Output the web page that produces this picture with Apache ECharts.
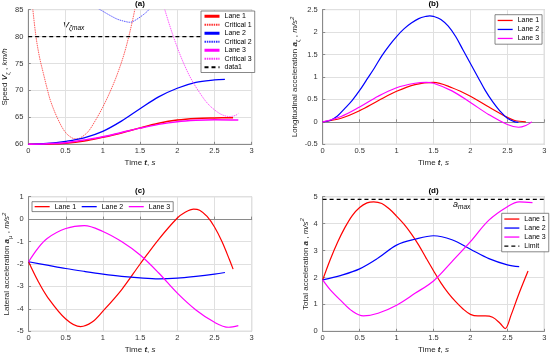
<!DOCTYPE html>
<html><head><meta charset="utf-8">
<script src="https://cdn.jsdelivr.net/npm/echarts@6/dist/echarts.min.js"></script>
<style>html,body{margin:0;padding:0;background:#fff}#c{width:550px;height:356px}</style>
</head><body><div id="c"></div>
<script>
// ---------- DATA ----------
const xTicks = [0, 0.5, 1, 1.5, 2, 2.5, 3];
// (a) speed, km/h
const tA1 = [0,0.25,0.5,0.75,1.0,1.25,1.5,1.75,2.0,2.25,2.5,2.75];
const vA1 = [60,60.05,60.2,60.6,61.3,62.1,63.05,63.9,64.5,64.8,64.9,64.95];
const tA2 = [0,0.25,0.5,0.75,1.0,1.25,1.5,1.75,2.0,2.25,2.5,2.64];
const vA2 = [60,60.15,60.55,61.2,62.4,64.3,66.6,68.8,70.4,71.5,71.95,72.05];
const tA3 = [0,0.25,0.5,0.75,1.0,1.25,1.5,1.75,2.0,2.25,2.5,2.82];
const vA3 = [60,60.1,60.3,60.8,61.4,62.2,63.0,63.7,64.2,64.45,64.55,64.5];
const tCr1 = [0.05,0.1,0.15,0.2,0.25,0.3,0.4,0.5,0.6,0.65,0.7,0.8,0.9,1.0,1.1,1.2,1.3,1.4,1.45];
const vCr1 = [86.5,80.3,76.2,73.3,70.5,68.0,64.6,62.2,61.1,61.0,61.2,62.3,64.4,66.9,69.8,73.2,77.4,83.0,86.5];
const tCr2 = [0.9,1.0,1.1,1.2,1.3,1.36,1.4,1.5,1.6,1.65];
const vCr2 = [85.5,84.7,83.9,83.2,82.8,82.65,82.75,83.6,84.7,85.5];
const tCr3 = [1.8,1.9,2.0,2.1,2.2,2.3,2.4,2.5,2.6,2.7,2.78,2.82];
const vCr3 = [86.5,82.0,78.0,74.6,71.8,69.6,67.7,66.4,65.5,65.15,65.35,65.7];
const tVmax = [0, 3];
const vVmax = [80, 80];
// (b) longitudinal acceleration, m/s^2
const tB1 = [0,0.25,0.5,0.75,1.0,1.25,1.5,1.75,2.0,2.25,2.5,2.6,2.75];
const vB1 = [0,0.08,0.25,0.47,0.68,0.83,0.88,0.76,0.57,0.33,0.1,0.03,0.0];
const tB2 = [0,0.1,0.2,0.3,0.4,0.5,0.6,0.7,0.8,0.9,1.0,1.1,1.2,1.3,1.4,1.45,1.5,1.6,1.7,1.8,1.9,2.0,2.1,2.2,2.3,2.4,2.5,2.6,2.65];
const vB2 = [0,0.03,0.13,0.3,0.48,0.7,0.95,1.2,1.47,1.7,1.9,2.07,2.2,2.3,2.35,2.36,2.35,2.28,2.13,1.9,1.6,1.3,1.0,0.7,0.45,0.24,0.08,0.0,-0.01];
const tB3 = [0,0.25,0.5,0.75,1.0,1.25,1.4,1.5,1.75,2.0,2.25,2.5,2.65,2.75,2.83];
const vB3 = [0,0.12,0.33,0.57,0.76,0.86,0.88,0.86,0.69,0.43,0.16,-0.06,-0.12,-0.08,0.0];
// (c) lateral acceleration, m/s^2
const tC1 = [0,0.125,0.25,0.5,0.7,0.85,1.0,1.25,1.5,1.75,2.0,2.1,2.22,2.3,2.4,2.5,2.6,2.7,2.75];
const vC1 = [-1.9,-2.75,-3.45,-4.45,-4.79,-4.6,-4.1,-3.15,-2.0,-0.9,0.05,0.3,0.45,0.4,0.12,-0.35,-1.0,-1.8,-2.23];
const tC2 = [0,0.25,0.5,0.75,1.0,1.25,1.5,1.75,2.0,2.25,2.5,2.64];
const vC2 = [-1.9,-2.05,-2.2,-2.33,-2.45,-2.55,-2.62,-2.66,-2.63,-2.55,-2.45,-2.38];
const tC3 = [0,0.125,0.25,0.5,0.75,1.0,1.25,1.5,1.75,2.0,2.25,2.5,2.69,2.82];
const vC3 = [-1.9,-1.3,-0.86,-0.42,-0.29,-0.55,-1.0,-1.6,-2.4,-3.3,-4.05,-4.6,-4.82,-4.75];
// (d) total acceleration, m/s^2
const tD1 = [0,0.1,0.2,0.3,0.4,0.5,0.6,0.69,0.8,0.9,1.0,1.1,1.2,1.3,1.4,1.5,1.6,1.7,1.8,1.9,2.0,2.1,2.2,2.3,2.4,2.47,2.55,2.65,2.78];
const vD1 = [1.91,2.65,3.3,3.85,4.3,4.6,4.77,4.81,4.75,4.55,4.28,3.98,3.62,3.2,2.72,2.25,1.8,1.42,1.1,0.83,0.63,0.57,0.57,0.52,0.3,0.1,0.6,1.35,2.24];
const tD2 = [0,0.25,0.5,0.75,1.0,1.25,1.5,1.75,2.0,2.25,2.5,2.66];
const vD2 = [1.91,2.08,2.32,2.72,3.2,3.42,3.55,3.4,3.05,2.7,2.47,2.4];
const tD3 = [0,0.1,0.25,0.4,0.55,0.75,1.0,1.25,1.5,1.75,2.0,2.25,2.5,2.66,2.84];
const vD3 = [1.91,1.55,1.13,0.75,0.57,0.67,0.97,1.41,1.87,2.59,3.33,4.13,4.63,4.81,4.78];
const tLimit = [0, 3];
const vLimit = [4.9, 4.9];

// ---------- CHART ----------
const FONT = '"Liberation Sans", Arial, Helvetica, sans-serif';
const RED = '#ff0000', BLUE = '#0000ff', MAG = '#ff00ff';
const pairs = (t, v) => t.map((x, i) => [x, v[i]]);
const richName = {
  n: {fontSize: 8, fontFamily: FONT, color: '#262626', lineHeight: 12},
  b: {fontSize: 8, fontFamily: FONT, color: '#262626', fontWeight: 'bold', fontStyle: 'italic', lineHeight: 12},
  i: {fontSize: 8, fontFamily: FONT, color: '#262626', fontStyle: 'italic', lineHeight: 12},
  sub: {fontSize: 6, fontFamily: FONT, color: '#262626', lineHeight: 6, verticalAlign: 'bottom'},
  sup: {fontSize: 6, fontFamily: FONT, color: '#262626', fontStyle: 'italic', lineHeight: 6, verticalAlign: 'top'}
};
function xAx(gi) {
  return {
    gridIndex: gi, type: 'value', min: 0, max: 3, interval: 0.5,
    name: '{n|Time }{b|t}{n|, }{i|s}', nameLocation: 'middle', nameGap: 12.5,
    nameTextStyle: {rich: richName},
    axisLine: {show: true, lineStyle: {color: '#8a8a8a', width: 1}},
    axisTick: {show: true, inside: true, length: 2.5, lineStyle: {color: '#8a8a8a'}},
    axisLabel: {fontSize: 7.5, fontFamily: FONT, color: '#333', margin: 3},
    splitLine: {show: true, lineStyle: {color: '#e0e0e0', width: 1}}
  };
}
function yAx(gi, min, max, interval, name, gap) {
  return {
    gridIndex: gi, type: 'value', min: min, max: max, interval: interval,
    name: name, nameLocation: 'middle', nameRotate: 90, nameGap: gap,
    nameTextStyle: {rich: richName},
    axisLine: {show: true, lineStyle: {color: '#8a8a8a', width: 1}},
    axisTick: {show: true, inside: true, length: 2.5, lineStyle: {color: '#8a8a8a'}},
    axisLabel: {fontSize: 7.5, fontFamily: FONT, color: '#333', margin: 5},
    splitLine: {show: true, lineStyle: {color: '#e0e0e0', width: 1}}
  };
}
function ln(name, gi, t, v, color, width, type) {
  return {
    name: name, type: 'line', xAxisIndex: gi, yAxisIndex: gi,
    data: pairs(t, v), symbol: 'none', smooth: 0.35, clip: true,
    lineStyle: {color: color, width: width, type: type || 'solid'},
    itemStyle: {color: color}, emphasis: {disabled: true}, animation: false
  };
}
const legBase = {
  orient: 'vertical', itemWidth: 15, itemHeight: 6, itemGap: 1,
  backgroundColor: '#fff', borderColor: '#555', borderWidth: 0.7, borderRadius: 0,
  itemStyle: {opacity: 0, borderWidth: 0},
  textStyle: {fontSize: 7, fontFamily: FONT, color: '#000', lineHeight: 7.5},
  selectedMode: false
};
const option = {
  animation: false,
  backgroundColor: '#fff',
  title: [
    {text: '(a)', left: 140, top: 0},
    {text: '(b)', left: 433.5, top: 0},
    {text: '(c)', left: 140, top: 186.5},
    {text: '(d)', left: 433.5, top: 186.5}
  ].map(o => Object.assign(o, {textAlign: 'center', padding: 0,
    textStyle: {fontSize: 8, fontWeight: 'bold', fontFamily: FONT, color: '#000'}})),
  grid: [
    {left: 28.3, top: 9.6, width: 223.4, height: 134.7, show: true, borderColor: '#b0b0b0', borderWidth: 1, backgroundColor: '#fff'},
    {left: 322.7, top: 9.6, width: 221.6, height: 134.7, show: true, borderColor: '#b0b0b0', borderWidth: 1, backgroundColor: '#fff'},
    {left: 28.3, top: 196.7, width: 223.4, height: 134.6, show: true, borderColor: '#b0b0b0', borderWidth: 1, backgroundColor: '#fff'},
    {left: 322.7, top: 196.7, width: 221.6, height: 134.6, show: true, borderColor: '#b0b0b0', borderWidth: 1, backgroundColor: '#fff'}
  ],
  xAxis: [xAx(0), xAx(1), xAx(2), xAx(3)],
  yAxis: [
    yAx(0, 60, 85, 5, '{n|Speed }{b|V}{sub|ζ}{n| , }{i|km/h}', 13),
    yAx(1, -0.5, 2.5, 0.5, '{n|Longitudinal acceleration }{b|a}{sub|ζ}{n| , }{i|m/s}{sup|2}', 20.5),
    yAx(2, -5, 1, 1, '{n|Lateral acceleration }{b|a}{sub|μ}{n| , }{i|m/s}{sup|2}', 11),
    yAx(3, 0, 5, 1, '{n|Total acceleration }{b|a}{n| , }{i|m/s}{sup|2}', 6)
  ],
  legend: [
    Object.assign({}, legBase, {left: 201, top: 11, padding: [1.5, 3, 1.5, 2],
      data: [
        {name: 'Lane 1', lineStyle: {width: 3}}, 'Critical 1',
        {name: 'Lane 2', lineStyle: {width: 3}}, 'Critical 2',
        {name: 'Lane 3', lineStyle: {width: 3}}, 'Critical 3', 'data1'
      ]}),
    Object.assign({}, legBase, {left: 495, top: 14.7, padding: [2, 3, 2, 2], itemGap: 1.5,
      lineStyle: {width: 1.3}, data: ['Lane 1', 'Lane 2', 'Lane 3']}),
    Object.assign({}, legBase, {orient: 'horizontal', left: 32, top: 201.7, padding: [1.2, 3, 1.2, 2], itemGap: 5,
      lineStyle: {width: 1.3}, data: ['Lane 1', 'Lane 2', 'Lane 3']}),
    Object.assign({}, legBase, {left: 501.7, top: 213.3, padding: [2, 3, 2, 2], itemGap: 1.5,
      lineStyle: {width: 1.3}, data: ['Lane 1', 'Lane 2', 'Lane 3', 'Limit']})
  ],
  graphic: [
    {type: 'text', left: 63, top: 21, silent: true, style: {
      text: '{v|V}{s|ζmax}', rich: {
        v: {fontSize: 9, fontStyle: 'italic', fontFamily: FONT, fill: '#000', lineHeight: 13},
        s: {fontSize: 6.5, fontStyle: 'italic', fontFamily: FONT, fill: '#000', lineHeight: 7, verticalAlign: 'bottom'}}}},
    {type: 'text', left: 453, top: 200, silent: true, style: {
      text: '{v|a}{s|max}', rich: {
        v: {fontSize: 9, fontStyle: 'italic', fontFamily: FONT, fill: '#000', lineHeight: 13},
        s: {fontSize: 6.5, fontStyle: 'italic', fontFamily: FONT, fill: '#000', lineHeight: 7, verticalAlign: 'bottom'}}}}
  ],
  series: [
    ln('Lane 1', 0, tA1, vA1, RED, 1.5),
    ln('Critical 1', 0, tCr1, vCr1, '#ff3030', 0.8, [1.5, 0.8]),
    ln('Lane 2', 0, tA2, vA2, BLUE, 1.3),
    ln('Critical 2', 0, tCr2, vCr2, '#3030ff', 0.8, [1.5, 0.8]),
    ln('Lane 3', 0, tA3, vA3, MAG, 1.5),
    ln('Critical 3', 0, tCr3, vCr3, '#ff30ff', 0.8, [1.5, 0.8]),
    ln('data1', 0, tVmax, vVmax, '#000', 1.3, [4, 3]),
    ln('Lane 1', 1, tB1, vB1, RED, 1.2),
    ln('Lane 2', 1, tB2, vB2, BLUE, 1.2),
    ln('Lane 3', 1, tB3, vB3, MAG, 1.2),
    ln('Lane 1', 2, tC1, vC1, RED, 1.2),
    ln('Lane 2', 2, tC2, vC2, BLUE, 1.2),
    ln('Lane 3', 2, tC3, vC3, MAG, 1.2),
    ln('Lane 1', 3, tD1, vD1, RED, 1.2),
    ln('Lane 2', 3, tD2, vD2, BLUE, 1.2),
    ln('Lane 3', 3, tD3, vD3, MAG, 1.2),
    ln('Limit', 3, tLimit, vLimit, '#000', 1.3, [4, 3])
  ]
};
const chart = echarts.init(document.getElementById('c'), null, {renderer: 'canvas'});
chart.setOption(option);
</script></body></html>
